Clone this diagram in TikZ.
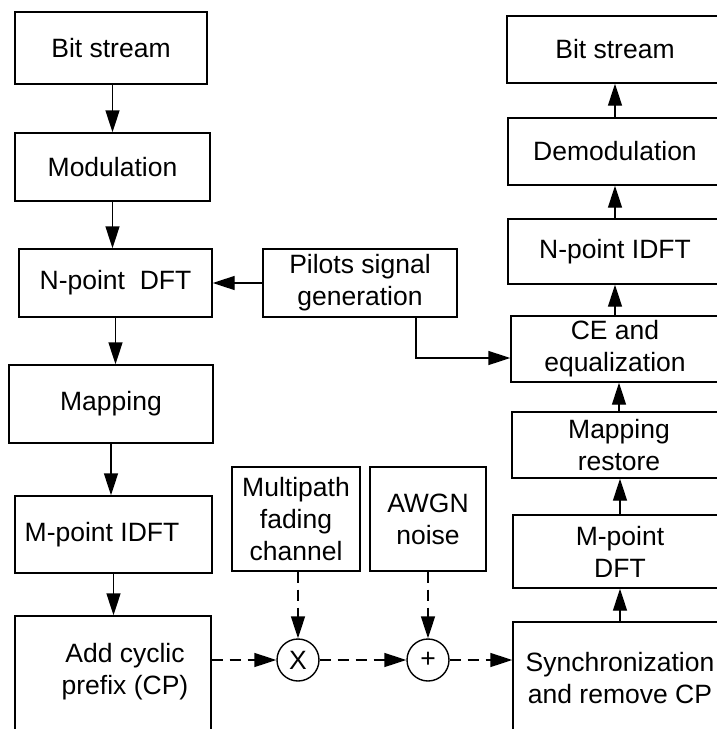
\documentclass[tikz,border=0pt]{standalone}
\usepackage{fontspec}
\setmainfont{Liberation Sans}
\usepackage{tikz}
\usetikzlibrary{arrows.meta,positioning}
\colorlet{ofdmline}{black}
\tikzset{
  ofdmblock/.style={
    draw=ofdmline,
    line width=1.4pt,
    align=center,
    inner sep=0pt,
    font=\fontsize{26.5}{32}\selectfont
  },
  ofdmtext/.style={align=center,inner sep=0pt,font=\fontsize{26.5}{32}\selectfont},
  ofdmsum/.style={circle,draw=ofdmline,line width=1.4pt,minimum size=42pt,
                  inner sep=0pt,font=\fontsize{26.5}{32}\selectfont},
  ofdmflow/.style={-{Triangle[length=22pt,width=14pt]},line width=1.4pt,ofdmline},
  ofdmdash/.style={ofdmflow,dash pattern=on 11pt off 7pt}
}
\begin{document}
\begin{tikzpicture}[x=1pt,y=-1pt]
  \useasboundingbox (0,0) rectangle (717,729);
  \clip (0,0) rectangle (717,729);

  % transmitter
  \node[ofdmblock,minimum width=192pt,minimum height=72pt] (txbits) at (111,48) {Bit stream};
  \node[ofdmblock,minimum width=195pt,minimum height=68pt] (txmod) at (112.5,167) {Modulation};
  \node[ofdmblock,minimum width=193pt,minimum height=68pt] (txdft) at (115.5,283) {N-point~~DFT};
  \node[ofdmblock,minimum width=204pt,minimum height=78pt] (txmap) at (111,404) {Mapping};
  \node[ofdmblock,minimum width=197pt,minimum height=77pt] (txidft) at (113.5,534.5) {};
  \node[ofdmtext] (txidfttext) at (102,535) {M-point IDFT};
  \node[ofdmblock,minimum width=196pt,minimum height=124pt] (txcp) at (113,678) {};
  \node[ofdmtext] (txcptext) at (125,672) {Add cyclic\\prefix (CP)};

  \node[ofdmblock,minimum width=194pt,minimum height=68pt] (pilots) at (360,283) {Pilots signal\\generation};

  % channel
  \node[ofdmblock,minimum width=128pt,minimum height=104pt] (fading) at (296,519) {Multipath\\fading\\channel};
  \node[ofdmblock,minimum width=116pt,minimum height=104pt] (awgn) at (428,519) {AWGN\\noise};
  \node[ofdmsum] (mult) at (298,660) {X};
  \node[ofdmsum] (plus) at (428,660) {+};

  % receiver
  \node[ofdmblock,minimum width=216pt,minimum height=67pt] (rxbits) at (615,49.5) {Bit stream};
  \node[ofdmblock,minimum width=214pt,minimum height=67pt] (rxdemod) at (615,151.5) {Demodulation};
  \node[ofdmblock,minimum width=214pt,minimum height=65pt] (rxidft) at (615,251.5) {N-point IDFT};
  \node[ofdmblock,minimum width=208pt,minimum height=66pt] (rxce) at (615,349) {CE and\\equalization};
  \node[ofdmblock,minimum width=214pt,minimum height=66pt] (rxmap) at (619,445) {Mapping\\restore};
  \node[ofdmblock,minimum width=214pt,minimum height=73pt] (rxdft) at (620,551.5) {M-point\\DFT};
  \node[ofdmblock,minimum width=214pt,minimum height=113pt] (rxsync) at (620,678.5) {Synchronization\\and remove CP};

  \draw[ofdmflow] (txbits.south -| txmod) -- (txmod);
  \draw[ofdmflow] (txmod.south) -- (txmod.south |- txdft.north);
  \draw[ofdmflow] (txdft.south) -- (txdft.south |- txmap.north);
  \draw[ofdmflow] (txmap.south) -- (txmap.south |- txidft.north);
  \draw[ofdmflow] (txidft.south) -- (txidft.south |- txcp.north);
  \draw[ofdmflow] (pilots.west) -- (txdft.east);
  \draw[ofdmflow] ([xshift=56pt]pilots.south) |- ([yshift=-9pt]rxce.west);

  \draw[ofdmdash] (txcp.east |- mult.west) -- (mult.west);
  \draw[ofdmdash] (fading.south -| mult.north) -- (mult.north);
  \draw[ofdmdash] (mult) -- (plus);
  \draw[ofdmdash] (awgn.south) -- (plus.north);
  \draw[ofdmdash] (plus.east) -- (plus -| rxsync.west);

  \draw[ofdmflow] (rxsync.north) -- (rxdft.south);
  \draw[ofdmflow] (rxdft.north) -- (rxdft.north |- rxmap.south);
  \draw[ofdmflow] (rxmap.north) -- (rxmap.north |- rxce.south);
  \draw[ofdmflow] (rxce.north) -- (rxidft.south);
  \draw[ofdmflow] (rxidft.north) -- (rxdemod.south);
  \draw[ofdmflow] (rxdemod.north) -- (rxbits.south);
\end{tikzpicture}
\end{document}
